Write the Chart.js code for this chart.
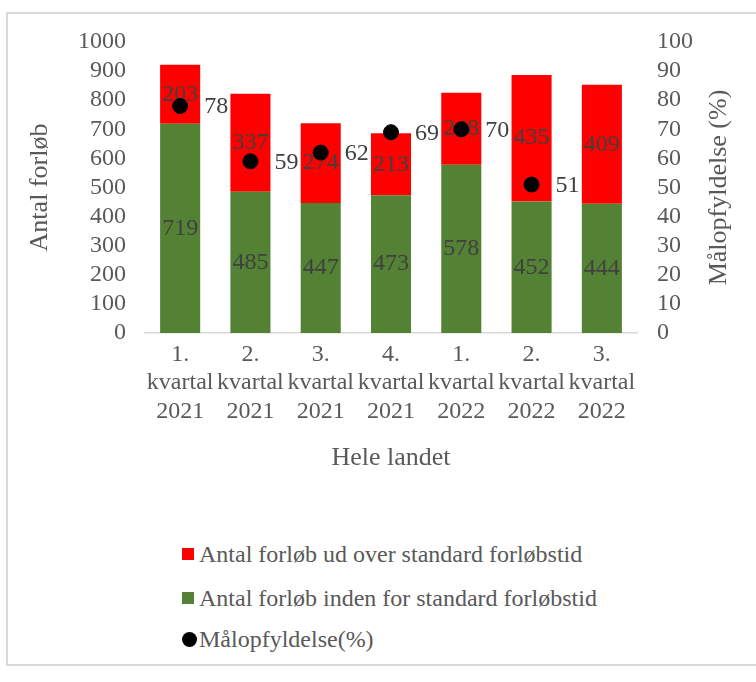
<!DOCTYPE html>
<html>
<head>
<meta charset="utf-8">
<script src="https://cdn.jsdelivr.net/npm/chart.js@4.4.0/dist/chart.umd.min.js"></script>
<style>
  body { margin: 0; background: #fff; font-family: "Liberation Serif", "Times New Roman", serif; }
  #frame { position: absolute; left: 6px; top: 12px; width: 760px; height: 654px; border: 2px solid #d9d9d9; border-right: none; box-sizing: border-box; }
  #wrap { position: absolute; left: 0; top: 0; width: 756px; height: 478px; }
  #legend { position: absolute; left: 182px; top: 0; color: #595959; font-size: 24px; }
  .item { position: absolute; left: 0; white-space: nowrap; display: flex; align-items: center; height: 30px; }
  .box { width: 12px; height: 12px; margin-right: 5px; }
  .dot { width: 15px; height: 15px; border-radius: 50%; margin-right: 2px; }
</style>
</head>
<body>
<div id="frame"></div>
<div id="wrap"><canvas id="myChart"></canvas></div>
<div id="legend"></div>
<script>
const quarters = [['1.', 'kvartal', '2021'], ['2.', 'kvartal', '2021'], ['3.', 'kvartal', '2021'], ['4.', 'kvartal', '2021'],
                  ['1.', 'kvartal', '2022'], ['2.', 'kvartal', '2022'], ['3.', 'kvartal', '2022']]
const within = [719, 485, 447, 473, 578, 452, 444]
const over = [203, 337, 274, 213, 248, 435, 409]
const goalPct = [78, 59, 62, 69, 70, 51, null]

const labelColor = '#404040'
const tickColor = '#595959'
const rightTitle = 'Målopfyldelse (%)'

// draws the value labels (no datalabels plugin available offline)
const valueLabels = {
  id: 'valueLabels',
  afterDatasetDraw(chart, args) {
    const ctx = chart.ctx
    const ds = chart.data.datasets[args.index]
    ctx.save()
    ctx.font = '24px "Liberation Serif"'
    ctx.fillStyle = labelColor
    ctx.textBaseline = 'middle'
    args.meta.data.forEach((el, i) => {
      const v = ds.data[i]
      if (v === null || v === undefined) return
      if (ds.type === 'bar') {
        ctx.textAlign = 'center'
        ctx.fillText(v, el.x, (el.y + el.base) / 2)
      } else {
        ctx.textAlign = 'left'
        ctx.fillText(v, el.x + 24, el.y + 1)
      }
    })
    ctx.restore()
  },
  // right axis title reads bottom-to-top in the reference
  afterDraw(chart) {
    const ctx = chart.ctx
    const area = chart.chartArea
    ctx.save()
    ctx.translate(chart.scales.y1.right - 20, (area.top + area.bottom) / 2)
    ctx.rotate(-Math.PI / 2)
    ctx.font = '26px "Liberation Serif"'
    ctx.fillStyle = tickColor
    ctx.textAlign = 'center'
    ctx.textBaseline = 'middle'
    ctx.fillText(rightTitle, 0, 0)
    ctx.restore()
  }
}

const ctx = document.getElementById('myChart')
const chart = new Chart(ctx, {
  data: {
    labels: quarters,
    datasets: [
      {
        type: 'bar',
        label: 'Antal forløb inden for standard forløbstid',
        data: within,
        backgroundColor: '#548235',
        borderWidth: 0,
        order: 1
      },
      {
        type: 'bar',
        label: 'Antal forløb ud over standard forløbstid',
        data: over,
        backgroundColor: '#ff0000',
        borderWidth: 0,
        order: 1
      },
      {
        type: 'line',
        label: 'Målopfyldelse(%)',
        data: goalPct,
        yAxisID: 'y1',
        showLine: false,
        pointRadius: 7.5,
        pointHoverRadius: 7.5,
        pointBackgroundColor: '#000000',
        pointBorderColor: '#000000',
        order: 0
      }
    ]
  },
  options: {
    responsive: true,
    maintainAspectRatio: false,
    animation: false,
    barPercentage: 0.57,
    categoryPercentage: 1,
    layout: { padding: { top: 42, left: 21, right: 17, bottom: 0 } },
    plugins: {
      legend: { display: false },
      tooltip: { enabled: false }
    },
    scales: {
      x: {
        stacked: true,
        grid: { display: false, drawTicks: false },
        border: { display: true, color: '#d9d9d9', width: 1.5 },
        ticks: { color: tickColor, font: { family: 'Liberation Serif', size: 24 }, padding: 7, maxRotation: 0, autoSkip: false },
        title: { display: true, text: 'Hele landet', color: tickColor, font: { family: 'Liberation Serif', size: 26 } },
        afterFit(scale) { scale.height = 145 }
      },
      y: {
        stacked: true,
        min: 0,
        max: 1000,
        grid: { display: false, drawTicks: false },
        border: { display: false },
        ticks: { stepSize: 100, autoSkip: false, color: tickColor, font: { family: 'Liberation Serif', size: 24 }, padding: 19,
                 callback: v => String(v) },
        title: { display: true, text: 'Antal forløb', color: tickColor, font: { family: 'Liberation Serif', size: 26 } },
        afterFit(scale) { scale.width = 124 }
      },
      y1: {
        position: 'right',
        min: 0,
        max: 100,
        grid: { display: false, drawTicks: false },
        border: { display: false },
        ticks: { stepSize: 10, autoSkip: false, color: tickColor, font: { family: 'Liberation Serif', size: 24 }, padding: 20 },
        title: { display: false },
        afterFit(scale) { scale.width = 102 }
      }
    }
  },
  plugins: [valueLabels]
})

// legend as html, in the reference's order
const legend = document.getElementById('legend')
const legendItems = [
  { text: chart.data.datasets[1].label, color: '#ff0000', cls: 'box', y: 539 },
  { text: chart.data.datasets[0].label, color: '#548235', cls: 'box', y: 583 },
  { text: chart.data.datasets[2].label, color: '#000000', cls: 'dot', y: 624 }
]
legendItems.forEach(it => {
  const row = document.createElement('div')
  row.className = 'item'
  row.style.top = it.y + 'px'
  const m = document.createElement('span')
  m.className = it.cls
  m.style.background = it.color
  row.appendChild(m)
  row.appendChild(document.createTextNode(it.text))
  legend.appendChild(row)
})
</script>
</body>
</html>
